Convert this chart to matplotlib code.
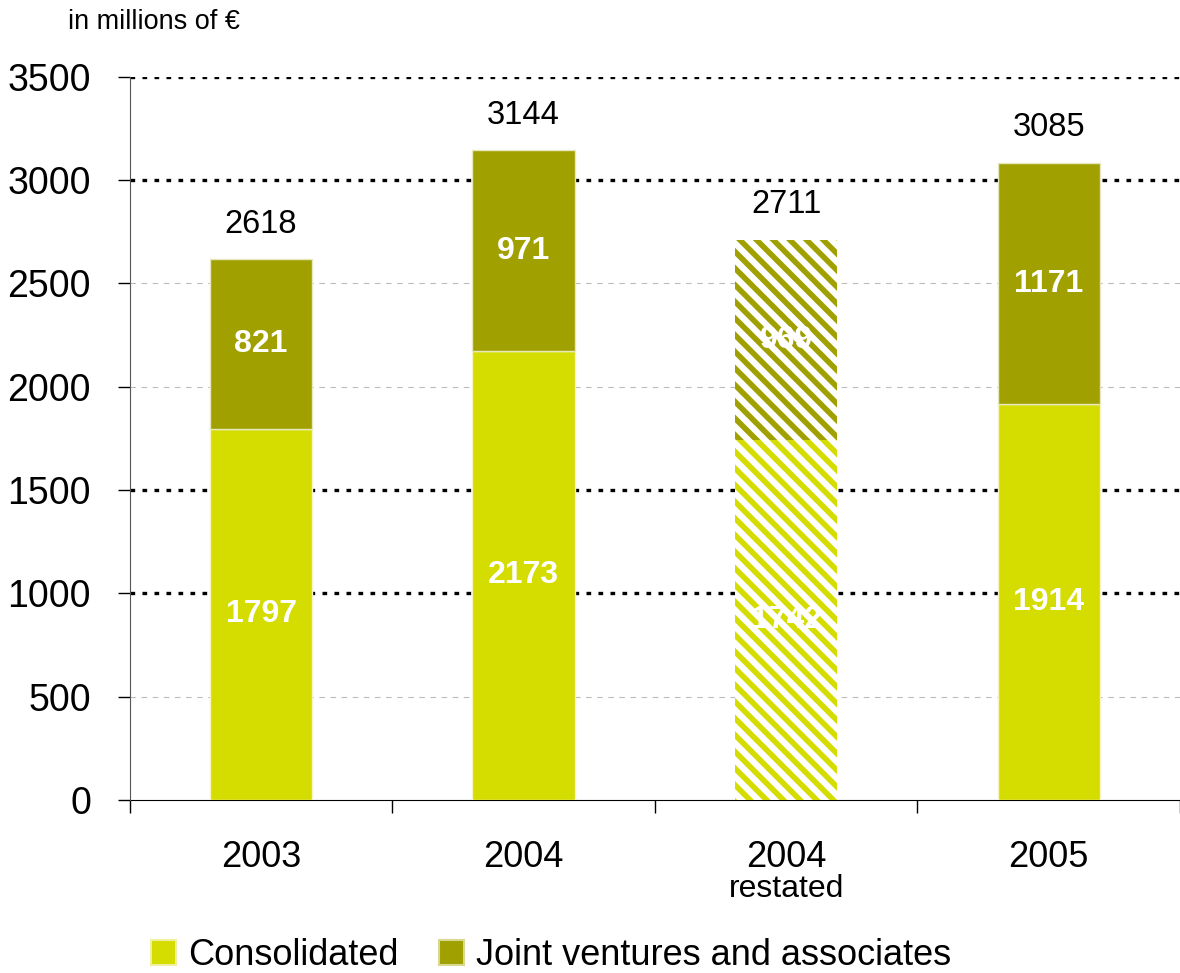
import matplotlib.pyplot as plt
from matplotlib.patches import Patch
from matplotlib.transforms import blended_transform_factory

plt.rcParams['font.family'] = ['Liberation Sans', 'DejaVu Sans']
plt.rcParams['hatch.linewidth'] = 4.0

# EBITDA split by year
years = ['2003', '2004', '2004', '2005']
sublabels = ['', '', 'restated', '']
consolidated = [1797, 2173, 1742, 1914]
joint_ventures = [821, 971, 969, 1171]
totals = [2618, 3144, 2711, 3085]
restated = [False, False, True, False]

col_cons = '#D4DC00'
col_jv = '#A0A000'

fig = plt.figure(figsize=(11.8, 9.73), dpi=100)
ax = fig.add_axes([0.11, 0.178, 0.89, 0.743])

x = range(len(years))
width = 0.39
for i in x:
    if restated[i]:
        ax.bar(i, consolidated[i], width, color='white', edgecolor=col_cons,
               hatch='\\\\', linewidth=0, zorder=3)
        ax.bar(i, joint_ventures[i], width, bottom=consolidated[i], color='white',
               edgecolor=col_jv, hatch='\\\\', linewidth=0, zorder=3)
    else:
        ax.bar(i, consolidated[i], width, color=col_cons, edgecolor='#f4f4c8',
               linewidth=1, zorder=3)
        ax.bar(i, joint_ventures[i], width, bottom=consolidated[i], color=col_jv,
               edgecolor='#e8e8c0', linewidth=1, zorder=3)
    ax.text(i, consolidated[i] / 2, str(consolidated[i]), ha='center', va='center',
            color='white', fontsize=23, fontweight='bold', zorder=5)
    ax.text(i, consolidated[i] + joint_ventures[i] / 2, str(joint_ventures[i]),
            ha='center', va='center', color='white', fontsize=23,
            fontweight='bold', zorder=5)
    ax.annotate(str(totals[i]), (i, consolidated[i] + joint_ventures[i]),
                xytext=(0, 14), textcoords='offset points', ha='center',
                va='bottom', fontsize=23.5, zorder=5)

# grid: heavy dotted at some levels, light dashed at others
for v in [500, 1000, 1500, 2000, 2500, 3000, 3500]:
    if v in (1000, 1500, 3000, 3500):
        ax.axhline(v, color='black', lw=2.4, ls=(0, (1.4, 2.2)), zorder=1)
    else:
        ax.axhline(v, color='#bbbbbb', lw=0.8, ls=(0, (5, 5)), zorder=1)

ax.set_xlim(-0.5, 3.5)
ax.set_ylim(0, 3500)
ax.set_yticks(range(0, 3501, 500))
ax.tick_params(axis='y', labelsize=27, length=9, width=1, pad=19, direction='out')

ax.set_xticks(list(x))
ax.set_xticklabels(years, fontsize=26)
ax.tick_params(axis='x', which='major', length=0, pad=29)
ax.set_xticks([-0.5, 0.5, 1.5, 2.5, 3.5], minor=True)
ax.tick_params(axis='x', which='minor', length=9, width=1, direction='out')

trans = blended_transform_factory(ax.transData, ax.transAxes)
for i, s in enumerate(sublabels):
    if s:
        ax.text(i, -0.123, s, transform=trans, ha='center', va='center', fontsize=23)

for side in ('top', 'right'):
    ax.spines[side].set_visible(False)
ax.spines['left'].set_color('#555555')
ax.spines['bottom'].set_color('black')
ax.spines['left'].set_zorder(4)

fig.text(0.058, 0.977, 'in millions of €', fontsize=19.5, ha='left', va='center')

handles = [Patch(facecolor=col_cons, edgecolor='#eef0a0', linewidth=1.5),
           Patch(facecolor=col_jv, edgecolor='#d8d890', linewidth=1.5)]
fig.legend(handles, ['Consolidated', 'Joint ventures and associates'],
           loc='center', bbox_to_anchor=(0.467, 0.018), ncol=2, frameon=False,
           prop={'size': 26}, handlelength=0.7, handleheight=0.7,
           handletextpad=0.35, columnspacing=1.1)

fig.savefig('out.png', dpi=100)
